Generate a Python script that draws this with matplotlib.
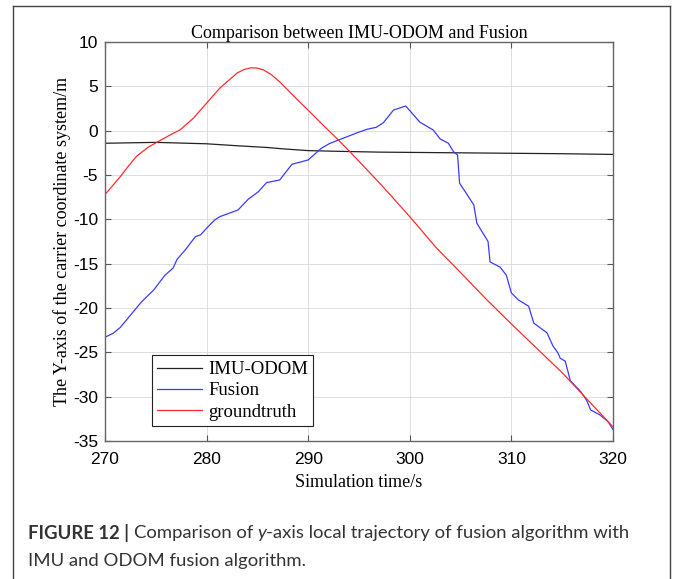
import matplotlib
matplotlib.use("Agg")
import matplotlib.pyplot as plt
from matplotlib.lines import Line2D

plt.rcParams["axes.unicode_minus"] = False

# time axis (s) and trajectories (m)
t_odom = [270, 275, 280, 283, 286, 287.5, 290, 293, 297, 300, 305, 310, 315, 320]
y_odom = [-1.42, -1.32, -1.48, -1.7, -1.9, -2.05, -2.25, -2.33, -2.42, -2.45,
          -2.5, -2.55, -2.6, -2.68]

t_fusion = [270.0, 270.8, 271.5, 272.8, 273.6, 274.8, 275.9, 276.7, 277.1, 277.9,
            278.9, 279.4, 280.0, 280.8, 281.3, 283.1, 284.1, 285.1, 285.9, 287.2,
            288.4, 290.0, 291.3, 292.1, 293.0, 294.1, 294.9, 295.8, 296.7, 297.4,
            298.4, 299.6, 301.0, 302.3, 303.0, 303.8, 304.3, 304.7, 304.9, 305.6,
            306.3, 306.6, 307.7, 307.9, 308.9, 309.5, 310.0, 310.7, 311.7, 312.2,
            313.5, 314.1, 314.6, 314.8, 315.3, 315.8, 316.8, 317.4, 317.8, 318.7,
            319.5, 320.0]
y_fusion = [-23.3, -22.85, -22.2, -20.4, -19.3, -17.96, -16.3, -15.5, -14.5, -13.45,
            -11.95, -11.76, -11.0, -10.07, -9.7, -8.94, -7.73, -6.88, -5.86, -5.56,
            -3.79, -3.3, -1.98, -1.45, -1.05, -0.56, -0.2, 0.16, 0.38, 0.9,
            2.33, 2.78, 0.95, 0.08, -0.95, -1.42, -2.37, -2.74, -5.93, -7.14,
            -8.38, -10.44, -12.5, -14.8, -15.4, -16.3, -18.3, -19.1, -19.8, -21.7,
            -22.8, -24.3, -25.1, -25.66, -26.0, -28.2, -29.4, -30.4, -31.5, -32.05,
            -32.8, -33.7]

t_truth = [270.0, 271.5, 272.3, 273.1, 274.2, 275.2, 276.3, 277.4, 278.7, 279.3,
           280.0, 281.3, 282.2, 283.0, 283.7, 284.4, 285.0, 285.6, 286.4, 287.2,
           288.5, 289.2, 290.0, 291.4, 292.8, 294.1, 297.1, 300.0, 302.6, 305.0,
           307.6, 310.0, 315.0, 317.7, 320.0]
y_truth = [-7.2, -5.2, -4.0, -2.9, -1.9, -1.25, -0.55, 0.1, 1.4, 2.2,
           3.1, 4.8, 5.7, 6.5, 6.9, 7.1, 7.05, 6.85, 6.3, 5.5,
           4.0, 3.2, 2.3, 0.7, -0.86, -2.37, -6.0, -9.7, -13.2, -16.0,
           -19.1, -21.8, -27.3, -30.6, -33.4]

x_ticks = [270, 280, 290, 300, 310, 320]
y_ticks = [10, 5, 0, -5, -10, -15, -20, -25, -30, -35]

W, H = 673, 579
fig = plt.figure(figsize=(W / 100, H / 100), dpi=100)
fig.patch.set_facecolor("white")

ax = fig.add_axes([105 / W, 1 - 441 / H, 508 / W, 399 / H])
ax.plot(t_odom, y_odom, color="#222222", lw=0.9, label="IMU-ODOM")
ax.plot(t_fusion, y_fusion, color="#3a3aff", lw=0.9, label="Fusion")
ax.plot(t_truth, y_truth, color="#ff2b2b", lw=0.9, label="groundtruth")

ax.set_xlim(270, 320)
ax.set_ylim(-35, 10)
ax.set_xticks(x_ticks)
ax.set_yticks(y_ticks)
ax.grid(True, color="#dddddd", lw=0.7)
ax.set_axisbelow(True)
ax.tick_params(direction="in", length=4, width=0.8, color="#555555",
               top=True, right=True, labelsize=12.5)
ax.tick_params(axis="x", pad=8)
ax.tick_params(axis="y", pad=5)
for lab in ax.get_xticklabels() + ax.get_yticklabels():
    lab.set_fontfamily("Liberation Sans")
for s in ax.spines.values():
    s.set_color("#666666")
    s.set_linewidth(1.0)

serif = "Liberation Serif"
ax.set_title("Comparison between IMU-ODOM and Fusion", fontfamily=serif,
             fontsize=13, pad=3)
ax.set_xlabel("Simulation time/s", fontfamily=serif, fontsize=13, labelpad=5)
ax.set_ylabel("The Y-axis of the carrier coordinate system/m", fontfamily=serif,
              fontsize=13, labelpad=1)

leg = ax.legend(loc="lower left", bbox_to_anchor=(0.092, 0.037),
                prop={"family": serif, "size": 13.5}, fancybox=False,
                edgecolor="#222222", framealpha=1, handlelength=2.4,
                handletextpad=0.3, borderpad=0.3, labelspacing=0.22,
                borderaxespad=0)
leg.get_frame().set_linewidth(0.8)

# outer frame around figure and caption
frame_kw = dict(color="#444444", lw=1.0, transform=None)
fig.add_artist(Line2D([13, 13], [0, H - 6], **frame_kw))
fig.add_artist(Line2D([670, 670], [0, H - 6], **frame_kw))
fig.add_artist(Line2D([13, 670], [H - 6, H - 6], **frame_kw))

# caption, drawn piece by piece so the styles can mix
cap_font = "Lato"
cap_size = 13.3
cap_color = "#333333"


def caption_line(pieces, x0, y_px):
    renderer = fig.canvas.get_renderer()
    x = x0
    for txt, weight, style in pieces:
        t = fig.text(x / W, 1 - y_px / H, txt, fontfamily=cap_font,
                     fontsize=cap_size, fontweight=weight, fontstyle=style,
                     color=cap_color, va="center", ha="left")
        bb = t.get_window_extent(renderer=renderer)
        x = bb.x1


caption_line([("FIGURE 12 | ", "bold", "normal"),
              ("Comparison of ", "normal", "normal"),
              ("y", "normal", "italic"),
              ("-axis local trajectory of fusion algorithm with", "normal", "normal")],
             28, 533)
caption_line([("IMU and ODOM fusion algorithm.", "normal", "normal")], 28, 561)

fig.savefig("out.png", dpi=100)
